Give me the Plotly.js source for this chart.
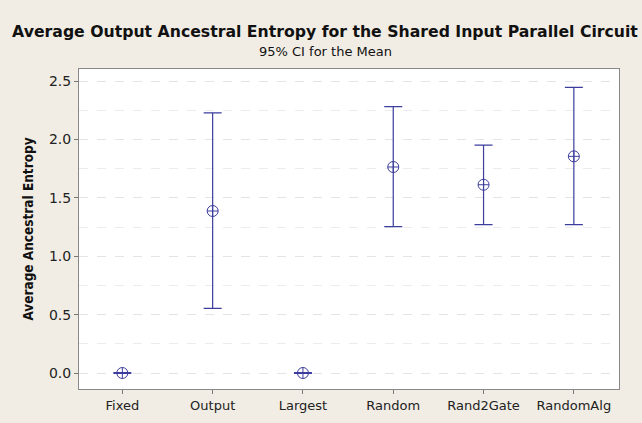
<!DOCTYPE html>
<html><head><meta charset="utf-8">
<script src="https://cdn.plot.ly/plotly-3.0.1.min.js"></script>
<style>html,body{margin:0;padding:0;background:#f1ede4;}</style>
</head><body><div id="chart" style="width:642px;height:423px;"></div>
<script>
const categories = ["Fixed", "Output", "Largest", "Random", "Rand2Gate", "RandomAlg"];
const means = [0.0, 1.387, 0.0, 1.764, 1.612, 1.855];
const upper = [0.0, 2.228, 0.0, 2.280, 1.952, 2.446];
const lower = [0.0, 0.554, 0.0, 1.253, 1.270, 1.270];
const yTicks = [0.0, 0.5, 1.0, 1.5, 2.0, 2.5];
const yTickText = ["0.0", "0.5", "1.0", "1.5", "2.0", "2.5"];
const titleText = "Average Output Ancestral Entropy for the Shared Input Parallel Circuit";
const subtitleText = "95% CI for the Mean";
const yTitleText = "Average Ancestral Entropy";

const xIdx = categories.map((c, i) => i);
// small floor so zero-width intervals still draw their caps, as in the reference
const eps = 0.003;
const trace = {
  type: "scatter", mode: "markers",
  x: xIdx, y: means,
  marker: {symbol: "circle-cross-open", size: 11, color: "#3d3d9e", line: {width: 1, color: "#3d3d9e"}},
  error_y: {type: "data", symmetric: false,
    array: upper.map((u, i) => Math.max(u - means[i], eps)),
    arrayminus: means.map((m, i) => Math.max(m - lower[i], eps)),
    color: "#3d3d9e", thickness: 1.2, width: 9},
  hoverinfo: "none", showlegend: false
};
const font = "'DejaVu Sans', Tahoma, sans-serif";
const layout = {
  width: 642, height: 423,
  paper_bgcolor: "#f1ede4", plot_bgcolor: "#ffffff",
  margin: {l: 79, r: 23, t: 69, b: 34},
  title: {text: "<b>" + titleText + "</b>",
    x: 325/642, xanchor: "center", xref: "container", y: 1 - 32/423, yanchor: "middle", yref: "container",
    font: {family: font, size: 15.7, color: "#111"}},
  annotations: [{text: subtitleText, xref: "paper", yref: "paper", x: (325-79)/540, y: 1 + (69-52)/320,
    xanchor: "center", yanchor: "middle", showarrow: false,
    font: {family: font, size: 13, color: "#111"}}],
  xaxis: {range: [-0.48, 5.5], tickmode: "array", tickvals: xIdx, ticktext: categories,
    ticks: "outside", ticklen: 4, tickcolor: "#777", showgrid: false, zeroline: false,
    showline: true, linecolor: "#888", linewidth: 1, mirror: true,
    tickfont: {family: font, size: 13, color: "#222"}},
  yaxis: {range: [-0.137, 2.603], tickmode: "array", tickvals: yTicks, ticktext: yTickText,
    ticks: "outside", ticklen: 4, tickcolor: "#777", zeroline: false,
    showgrid: true, gridcolor: "#e4e4e4", griddash: "dash", gridwidth: 1,
    minor: {dtick: 0.25, showgrid: true, gridcolor: "#ececec", gridwidth: 1, ticks: ""},
    showline: true, linecolor: "#888", linewidth: 1, mirror: true,
    tickfont: {family: font, size: 14, color: "#222"},
    title: {text: "<b>" + yTitleText + "</b>", standoff: 12, font: {family: "'DejaVu Sans Condensed', 'DejaVu Sans', sans-serif", size: 13.5, color: "#111"}}}
};
Plotly.newPlot("chart", [trace], layout, {displayModeBar: false, staticPlot: true});
</script></body></html>
